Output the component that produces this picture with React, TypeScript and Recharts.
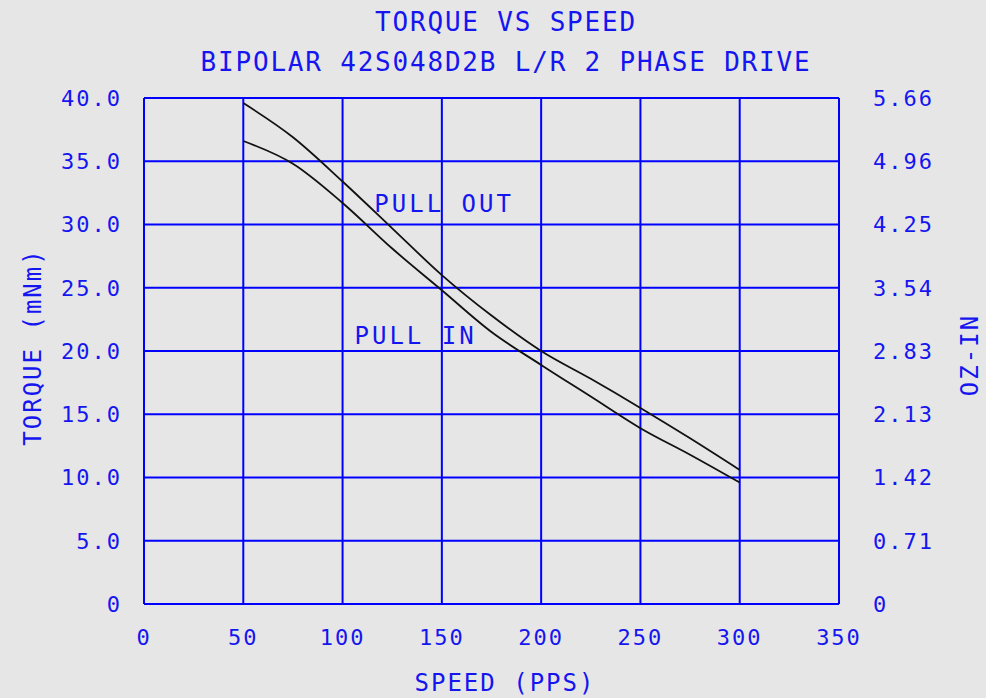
import React from 'react'
import { LineChart, Line, XAxis, YAxis, CartesianGrid, ReferenceDot } from 'recharts'

// speed in PPS, torque in mNm
const speeds = [50, 75, 100, 125, 150, 175, 200, 225, 250, 275, 300]
const pullOut = [39.6, 36.9, 33.4, 29.7, 26.0, 22.8, 20.0, 17.8, 15.5, 13.1, 10.6]
const pullIn = [36.6, 34.8, 31.7, 28.1, 24.8, 21.5, 18.9, 16.4, 13.9, 11.8, 9.6]

const xTicks = [0, 50, 100, 150, 200, 250, 300, 350]
const yTicks = [0, 5, 10, 15, 20, 25, 30, 35, 40]
const yTickLabels = ['0', '5.0', '10.0', '15.0', '20.0', '25.0', '30.0', '35.0', '40.0']
const ozInLabels = ['0', '0.71', '1.42', '2.13', '2.83', '3.54', '4.25', '4.96', '5.66']

const notes = [
  { text: 'PULL OUT', speed: 116, torque: 31.7 },
  { text: 'PULL IN', speed: 106, torque: 21.2 }
]

const data = speeds.map((s, i) => ({ speed: s, out: pullOut[i], in: pullIn[i] }))

const BLUE = '#0000ff'
const TEXT = '#1515f0'
const FONT = '"DejaVu Sans Mono", monospace'

const tickStyle = { fill: TEXT, fontFamily: FONT, fontSize: 22, letterSpacing: 2 }

const NoteLabel = (props: any) => {
  const { viewBox, value } = props
  return (
    <text x={viewBox.x} y={viewBox.y} dy="0.36em" fill={TEXT} fontFamily={FONT} fontSize={24} letterSpacing={3}>
      {value}
    </text>
  )
}

const App = () => {
  const textBase: React.CSSProperties = {
    position: 'absolute',
    color: TEXT,
    fontFamily: FONT,
    whiteSpace: 'nowrap',
    lineHeight: 1
  }
  return (
    <div style={{ position: 'absolute', left: 0, top: 0, width: 986, height: 698, background: '#e6e6e6' }}>
      <div style={{ ...textBase, left: 506, top: 22, fontSize: 26, letterSpacing: 1.8, transform: 'translate(-50%, -50%)' }}>
        TORQUE VS SPEED
      </div>
      <div style={{ ...textBase, left: 506, top: 62, fontSize: 26, letterSpacing: 1.8, transform: 'translate(-50%, -50%)' }}>
        BIPOLAR 42S048D2B L/R 2 PHASE DRIVE
      </div>
      <div style={{ ...textBase, left: 505, top: 683, fontSize: 24, letterSpacing: 2, transform: 'translate(-50%, -50%)' }}>
        SPEED (PPS)
      </div>
      <div style={{ ...textBase, left: 33, top: 347, fontSize: 24, letterSpacing: 2, transform: 'translate(-50%, -50%) rotate(-90deg)' }}>
        TORQUE (mNm)
      </div>
      <div style={{ ...textBase, left: 970, top: 355, fontSize: 24, letterSpacing: 2, transform: 'translate(-50%, -50%) rotate(-90deg)' }}>
        OZ-IN
      </div>
      <LineChart width={986} height={698} data={data} margin={{ top: 98, right: 67, bottom: 34, left: 64 }}>
        <CartesianGrid yAxisId="left" stroke={BLUE} strokeWidth={2} />
        <XAxis
          dataKey="speed"
          type="number"
          domain={[0, 350]}
          ticks={xTicks}
          axisLine={false}
          tickLine={false}
          tickSize={0}
          tickMargin={25}
          height={60}
          tick={tickStyle}
          interval={0}
        />
        <YAxis
          yAxisId="left"
          type="number"
          domain={[0, 40]}
          ticks={yTicks}
          axisLine={false}
          tickLine={false}
          tickSize={0}
          tickMargin={22}
          width={80}
          tick={tickStyle}
          interval={0}
          tickFormatter={(v: number) => yTickLabels[yTicks.indexOf(v)]}
        />
        <YAxis
          yAxisId="right"
          orientation="right"
          type="number"
          domain={[0, 40]}
          ticks={yTicks}
          axisLine={false}
          tickLine={false}
          tickSize={0}
          tickMargin={34}
          width={80}
          tick={{ ...tickStyle, textAnchor: 'start' }}
          interval={0}
          tickFormatter={(v: number) => ozInLabels[yTicks.indexOf(v)]}
        />
        <Line yAxisId="left" type="monotone" dataKey="out" stroke="#111" strokeWidth={1.8} dot={false} isAnimationActive={false} />
        <Line yAxisId="right" type="monotone" dataKey="in" stroke="#111" strokeWidth={1.8} dot={false} isAnimationActive={false} />
        {notes.map((n) => (
          <ReferenceDot
            key={n.text}
            yAxisId="left"
            x={n.speed}
            y={n.torque}
            r={0}
            fill="none"
            stroke="none"
            label={<NoteLabel value={n.text} />}
          />
        ))}
      </LineChart>
    </div>
  )
}

export default App
